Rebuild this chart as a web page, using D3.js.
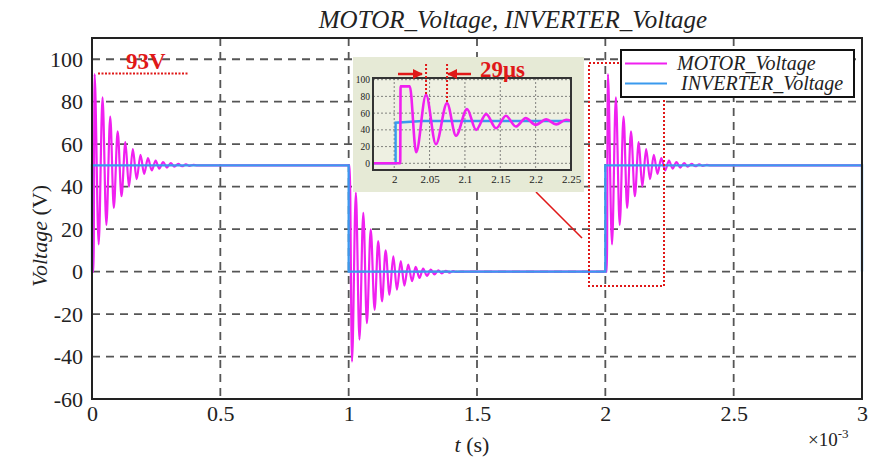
<!DOCTYPE html>
<html><head><meta charset="utf-8">
<script src="https://cdn.jsdelivr.net/npm/d3@7"></script>
<style>body{margin:0;background:#fff}svg{display:block}text{font-family:"Liberation Serif","Times New Roman",serif}</style>
</head><body><svg id="c" width="881" height="458"></svg>
<script>
// ---- data (time in ms, voltage in V) ----
const xTicks = [0, 0.5, 1, 1.5, 2, 2.5, 3];
const yTicks = [-60, -40, -20, 0, 20, 40, 60, 80, 100];
const stepTimes = [0, 1, 2, 3];
const inverterLevels = [50, 0, 50, 0];
// motor extrema after a rising step (offset ms, value V)
const riseOffsets = [0, 0.006, 0.010, 0.026, 0.041, 0.056, 0.071, 0.085, 0.100, 0.115, 0.130, 0.144, 0.159, 0.174, 0.189, 0.203, 0.218, 0.233, 0.248, 0.262, 0.277, 0.292, 0.307, 0.321, 0.336, 0.351, 0.366, 0.380, 0.395, 0.41];
const riseValues = [0, 0, 93, 12.8, 82, 22, 73, 30, 66, 35.5, 61, 40, 57.7, 43.5, 55, 46, 53.4, 47.6, 52.3, 48.5, 51.6, 49, 51.1, 49.4, 50.7, 49.6, 50.5, 49.8, 50.3, 50];
// motor extrema after a falling step
const fallOffsets = [0, 0.004, 0.013, 0.028, 0.042, 0.057, 0.071, 0.086, 0.101, 0.115, 0.130, 0.144, 0.159, 0.174, 0.188, 0.203, 0.217, 0.232, 0.247, 0.261, 0.276, 0.290, 0.305, 0.320, 0.334, 0.349, 0.363, 0.378, 0.393, 0.407, 0.422, 0.44];
const fallValues = [50, 50, -42.4, 37.2, -32, 27.7, -24.3, 19.9, -18, 14.3, -14, 10, -10.9, 7.2, -8.5, 4.9, -6.6, 3.3, -4.5, 2.2, -3, 1.4, -2, 0.9, -1.3, 0.6, -0.8, 0.4, -0.5, 0.2, -0.2, 0];
// inset (zoom around t = 2 ms)
const insetXTicks = [2, 2.05, 2.1, 2.15, 2.2, 2.25];
const insetYTicks = [0, 20, 40, 60, 80, 100];
const insetMotorT = [1.97, 2.0085, 2.009, 2.022, 2.031, 2.045, 2.059, 2.0747, 2.0874, 2.103, 2.1157, 2.13, 2.144, 2.158, 2.172, 2.186, 2.2, 2.215, 2.229, 2.243, 2.25];
const insetMotorV = [0, 0, 92, 92, 13.2, 82, 22.8, 72, 33, 64.8, 40, 58.8, 42, 56.8, 44, 54, 46, 52.5, 46.5, 52, 51];
const insetInvT = [1.97, 2.002, 2.002, 2.04, 2.25];
const insetInvV = [0, 0, 48.5, 50.5, 50.5];
const seriesNames = ["MOTOR_Voltage", "INVERTER_Voltage"];
const colors = {motor: "#f020f0", inverter: "#3a9aee", red: "#e01818", grid: "#555"};

const svg = d3.select("#c");
const M = {l: 92, r: 862, t: 38, b: 399};
const x = d3.scaleLinear().domain([0, 3]).range([M.l, M.r]);
const y = d3.scaleLinear().domain([-60, 110]).range([M.b, M.t]);

// grid
const g = svg.append("g");
g.selectAll(".gy").data(yTicks).join("line")
  .attr("x1", M.l).attr("x2", M.r).attr("y1", d => y(d)).attr("y2", d => y(d))
  .attr("stroke", colors.grid).attr("stroke-width", 1.8).attr("stroke-dasharray", "8,6");
g.selectAll(".gx").data(xTicks.filter(d => d > 0 && d < 3)).join("line")
  .attr("y1", M.t).attr("y2", M.b).attr("x1", d => x(d)).attr("x2", d => x(d))
  .attr("stroke", colors.grid).attr("stroke-width", 1.8).attr("stroke-dasharray", "8,6");

// build series
const motor = [];
const inverter = [];
stepTimes.forEach((t0, i) => {
  const lvl = inverterLevels[i];
  const prev = i === 0 ? 0 : inverterLevels[i - 1];
  inverter.push([t0, prev], [t0, lvl]);
  if (t0 >= 3) return;
  const offs = lvl > prev ? riseOffsets : fallOffsets;
  const vals = lvl > prev ? riseValues : fallValues;
  offs.forEach((o, k) => motor.push([t0 + o, vals[k]]));
  motor.push([stepTimes[i + 1] - 0.001, lvl]);
});

const lineM = d3.line().x(d => x(d[0])).y(d => y(d[1])).curve(d3.curveMonotoneX);
const lineI = d3.line().x(d => x(d[0])).y(d => y(d[1]));
svg.append("path").attr("d", lineM(motor)).attr("fill", "none").attr("stroke", colors.motor).attr("stroke-width", 2.2);
svg.append("path").attr("d", lineI(inverter)).attr("fill", "none").attr("stroke", colors.inverter).attr("stroke-width", 2.3);

// frame
svg.append("rect").attr("x", M.l).attr("y", M.t).attr("width", M.r - M.l).attr("height", M.b - M.t)
  .attr("fill", "none").attr("stroke", "#222").attr("stroke-width", 2);

// axes labels
const xAxis = d3.axisBottom(x).tickValues(xTicks).tickSize(0).tickPadding(6).tickFormat(d => String(d));
const xa = svg.append("g").attr("transform", `translate(0,${M.b})`).call(xAxis);
xa.select(".domain").remove();
xa.selectAll("text").attr("font-size", 22).attr("fill", "#222").attr("font-family", "Liberation Serif");
const yAxis = d3.axisLeft(y).tickValues(yTicks).tickSize(0).tickPadding(9).tickFormat(d => String(d));
const ya = svg.append("g").attr("transform", `translate(${M.l},0)`).call(yAxis);
ya.select(".domain").remove();
ya.selectAll("text").attr("font-size", 22).attr("fill", "#222").attr("font-family", "Liberation Serif");

svg.append("text").attr("x", 513).attr("y", 28).attr("text-anchor", "middle")
  .attr("font-size", 25).attr("font-style", "italic").attr("fill", "#222")
  .text("MOTOR_Voltage, INVERTER_Voltage");
const yl = svg.append("text").attr("transform", "translate(47,236) rotate(-90)").attr("text-anchor", "middle")
  .attr("font-size", 22).attr("fill", "#222");
yl.append("tspan").attr("font-style", "italic").text("Voltage");
yl.append("tspan").text(" (V)");
const xl = svg.append("text").attr("x", 472).attr("y", 452).attr("text-anchor", "middle").attr("font-size", 22).attr("fill", "#222");
xl.append("tspan").attr("font-style", "italic").text("t");
xl.append("tspan").text(" (s)");
const ex = svg.append("text").attr("x", 808).attr("y", 446).attr("font-size", 19).attr("fill", "#222");
ex.append("tspan").text("×10");
ex.append("tspan").attr("font-size", 13).attr("dy", -8).text("-3");

// annotations: 93V
svg.append("line").attr("x1", 98).attr("x2", 188).attr("y1", y(93) - 0.5).attr("y2", y(93) - 0.5)
  .attr("stroke", colors.red).attr("stroke-width", 2).attr("stroke-dasharray", "2,1.5");
svg.append("text").attr("x", 126).attr("y", 69).attr("font-size", 23).attr("font-weight", "bold").attr("fill", colors.red).text("93V");
// dotted highlight box and connector
svg.append("rect").attr("x", 589).attr("y", 63).attr("width", 75).attr("height", 223)
  .attr("fill", "none").attr("stroke", colors.red).attr("stroke-width", 2).attr("stroke-dasharray", "2,2");
svg.append("line").attr("x1", 536).attr("y1", 192).attr("x2", 582).attr("y2", 238).attr("stroke", colors.red).attr("stroke-width", 1.6);

// legend (on top of the highlight box)
const lg = svg.append("g");
lg.append("rect").attr("x", 621).attr("y", 50).attr("width", 233).attr("height", 47).attr("fill", "#fff").attr("stroke", "#111").attr("stroke-width", 2);
[[colors.motor, 63.5, 677], [colors.inverter, 83.5, 681]].forEach((c, i) => {
  lg.append("line").attr("x1", 625).attr("x2", 667).attr("y1", c[1]).attr("y2", c[1]).attr("stroke", c[0]).attr("stroke-width", 2);
  lg.append("text").attr("x", c[2]).attr("y", c[1] + 6).attr("font-size", 20).attr("font-style", "italic").attr("fill", "#222").text(seriesNames[i]);
});

// inset
const I = {l: 373, r: 571, t: 78, b: 170};
const ix = d3.scaleLinear().domain([1.97, 2.25]).range([I.l, I.r]);
const iy = d3.scaleLinear().domain([-8, 102]).range([I.b, I.t]);
const ig = svg.append("g");
ig.append("rect").attr("x", 353).attr("y", 57).attr("width", 231).attr("height", 135).attr("fill", "#e6ead6");
ig.append("rect").attr("x", I.l).attr("y", I.t).attr("width", I.r - I.l).attr("height", I.b - I.t).attr("fill", "#eef0e2");
ig.selectAll(".igy").data(insetYTicks).join("line").attr("x1", I.l).attr("x2", I.r).attr("y1", d => iy(d)).attr("y2", d => iy(d))
  .attr("stroke", "#666").attr("stroke-width", 0.8).attr("stroke-dasharray", "2,2");
ig.selectAll(".igx").data(insetXTicks).join("line").attr("y1", I.t).attr("y2", I.b).attr("x1", d => ix(d)).attr("x2", d => ix(d))
  .attr("stroke", "#666").attr("stroke-width", 0.8).attr("stroke-dasharray", "2,2");
const ilM = d3.line().x((d, i) => ix(insetMotorT[i])).y(d => iy(d)).curve(d3.curveMonotoneX);
const ilI = d3.line().x((d, i) => ix(insetInvT[i])).y(d => iy(d));
ig.append("path").attr("d", ilI(insetInvV)).attr("fill", "none").attr("stroke", colors.inverter).attr("stroke-width", 2.4);
ig.append("path").attr("d", ilM(insetMotorV)).attr("fill", "none").attr("stroke", colors.motor).attr("stroke-width", 2.6);
ig.append("rect").attr("x", I.l).attr("y", I.t).attr("width", I.r - I.l).attr("height", I.b - I.t).attr("fill", "none").attr("stroke", "#333").attr("stroke-width", 2);
const ixa = ig.append("g").attr("transform", `translate(0,${I.b})`).call(d3.axisBottom(ix).tickValues(insetXTicks).tickSize(0).tickPadding(5).tickFormat(d => String(d)));
ixa.select(".domain").remove();
ixa.selectAll("text").attr("font-size", 11).attr("fill", "#222").attr("font-family", "Liberation Serif");
const iya = ig.append("g").attr("transform", `translate(${I.l},0)`).call(d3.axisLeft(iy).tickValues(insetYTicks).tickSize(0).tickPadding(3).tickFormat(d => String(d)));
iya.select(".domain").remove();
iya.selectAll("text").attr("font-size", 9.5).attr("fill", "#222").attr("font-family", "Liberation Serif");
// 29us annotation
[2.045, 2.0747].forEach(t => {
  ig.append("line").attr("x1", ix(t)).attr("x2", ix(t)).attr("y1", 64).attr("y2", iy(insetMotorV[insetMotorT.indexOf(t)]))
    .attr("stroke", colors.red).attr("stroke-width", 2).attr("stroke-dasharray", "2,2");
});
const defs = svg.append("defs");
defs.append("marker").attr("id", "ah").attr("viewBox", "0 0 10 10").attr("refX", 9).attr("refY", 5)
  .attr("markerWidth", 4).attr("markerHeight", 4).attr("orient", "auto-start-reverse")
  .append("path").attr("d", "M0,0 L10,5 L0,10 z").attr("fill", colors.red);
ig.append("line").attr("x1", 398).attr("x2", 422).attr("y1", 74).attr("y2", 74).attr("stroke", colors.red).attr("stroke-width", 2.5).attr("marker-end", "url(#ah)");
ig.append("line").attr("x1", 471).attr("x2", 448).attr("y1", 74).attr("y2", 74).attr("stroke", colors.red).attr("stroke-width", 2.5).attr("marker-end", "url(#ah)");
ig.append("text").attr("x", 480).attr("y", 77).attr("font-size", 23).attr("font-weight", "bold").attr("fill", colors.red).text("29μs");
</script></body></html>
